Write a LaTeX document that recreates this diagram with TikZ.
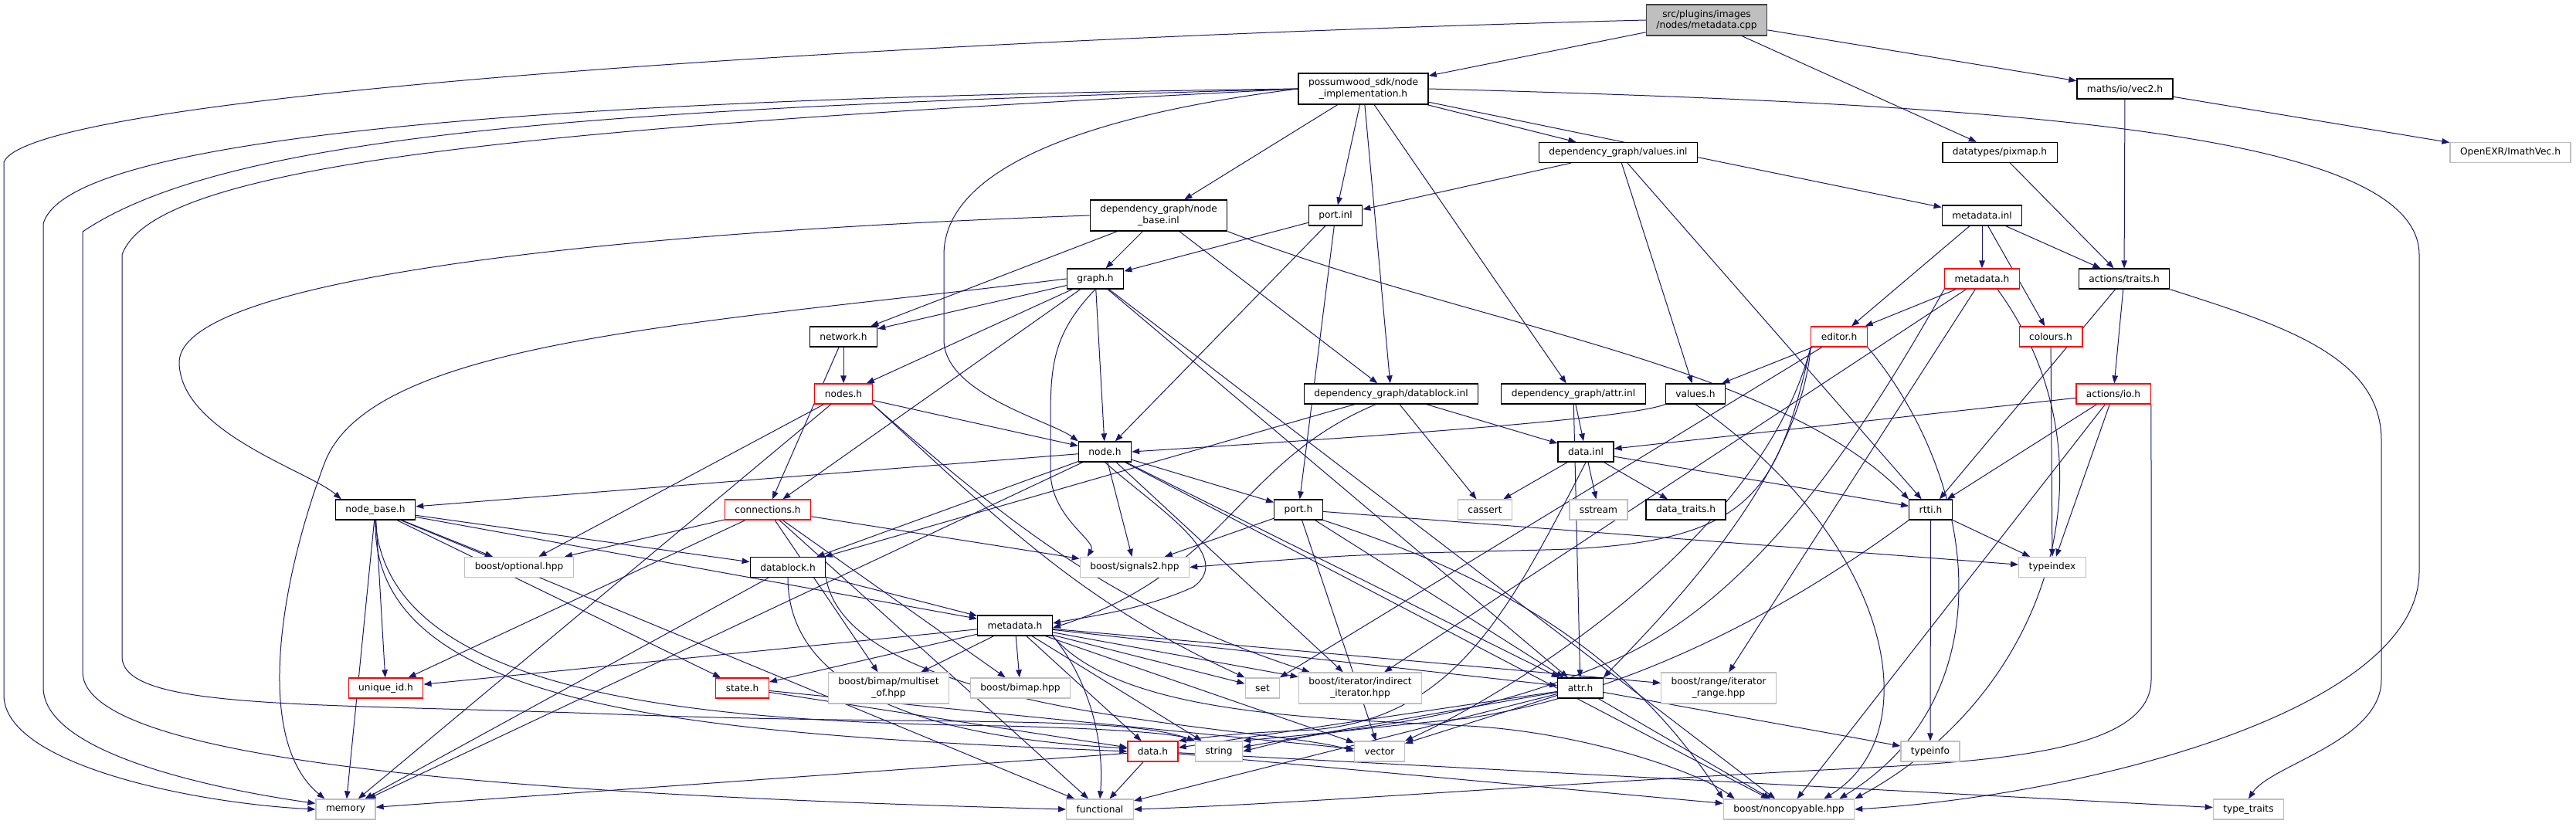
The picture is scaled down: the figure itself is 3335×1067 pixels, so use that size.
\documentclass[tikz,border=0pt]{standalone}
\usepackage{fontspec}
\setmainfont{DejaVu Sans}
\usetikzlibrary{arrows.meta}
\definecolor{edgeblue}{RGB}{25,25,112}
\definecolor{sysgray}{RGB}{191,191,191}
\definecolor{mainfill}{RGB}{191,191,191}
\definecolor{mainedge}{RGB}{64,64,64}
\definecolor{truncred}{RGB}{255,0,0}
\pgfdeclarelayer{bg}
\pgfdeclarelayer{edges}
\pgfsetlayers{bg,edges,main}
\tikzset{
  file/.style={draw,fill=white,line width=1.3pt,inner xsep=13pt,inner ysep=2pt,
    minimum height=26pt,align=center,font=\fontsize{12.2}{14.6}\selectfont},
  hdr/.style={file,draw=black},
  redhdr/.style={file,draw=truncred},
  syshdr/.style={file,draw=sysgray},
  mainfile/.style={file,draw=mainedge,fill=mainfill},
  twoline/.style={minimum height=40pt},
  dep/.style={draw=edgeblue,line width=1pt,-{Triangle[length=10pt,width=7.5pt]}}
}
\begin{document}
\begin{tikzpicture}[x=1pt,y=-1pt]
\useasboundingbox (0,0) rectangle (3335,1067);
\begin{pgfonlayer}{bg}
\fill[white] (0,0) rectangle (3335,1067);
\end{pgfonlayer}
% files
\node[mainfile,twoline] (cpp) at (2209.5,26) {src/plugins/images\\/nodes/metadata.cpp};
\node[hdr,twoline] (impl) at (1765,115) {possumwood\_sdk/node\\\_implementation.h};
\node[hdr] (vec2) at (2751,115) {maths/io/vec2.h};
\node[hdr] (valinl) at (2095,197.5) {dependency\_graph/values.inl};
\node[hdr] (pixmap) at (2589,197.5) {datatypes/pixmap.h};
\node[syshdr] (imath) at (3250,197.5) {OpenEXR/ImathVec.h};
\node[hdr,twoline] (nbinl) at (1500,279) {dependency\_graph/node\\\_base.inl};
\node[hdr] (portinl) at (1729,279) {port.inl};
\node[hdr] (mdinl) at (2566,279) {metadata.inl};
\node[hdr] (graph) at (1418,361) {graph.h};
\node[redhdr] (sdkmeta) at (2566,361) {metadata.h};
\node[hdr] (traits) at (2750,361) {actions/traits.h};
\node[hdr] (network) at (1092,436) {network.h};
\node[redhdr] (editor) at (2381,436) {editor.h};
\node[redhdr] (colours) at (2655,436) {colours.h};
\node[redhdr] (nodes) at (1092,510) {nodes.h};
\node[hdr] (dbinl) at (1801,510) {dependency\_graph/datablock.inl};
\node[hdr] (attrinl) at (2037,510) {dependency\_graph/attr.inl};
\node[hdr] (values) at (2195,510) {values.h};
\node[redhdr] (actio) at (2736,510) {actions/io.h};
\node[hdr] (nodeh) at (1430.5,585) {node.h};
\node[hdr] (datainl) at (2053,585) {data.inl};
\node[hdr] (nbh) at (486,660) {node\_base.h};
\node[redhdr] (conn) at (994,660) {connections.h};
\node[hdr] (port) at (1681,660) {port.h};
\node[syshdr] (cassert) at (1922.5,660) {cassert};
\node[syshdr] (sstream) at (2069.5,660) {sstream};
\node[hdr] (dtraits) at (2182.5,660) {data\_traits.h};
\node[hdr] (rtti) at (2499.5,660) {rtti.h};
\node[syshdr] (optional) at (672,734.5) {boost/optional.hpp};
\node[hdr] (datablock) at (1020,734.5) {datablock.h};
\node[syshdr] (signals) at (1469,734.5) {boost/signals2.hpp};
\node[syshdr] (typeindex) at (2657,734.5) {typeindex};
\node[hdr] (dgmeta) at (1314,810) {metadata.h};
\node[redhdr] (uid) at (499.5,891) {unique\_id.h};
\node[redhdr] (state) at (961,891) {state.h};
\node[syshdr,twoline] (multiset) at (1150.5,891) {boost/bimap/multiset\\\_of.hpp};
\node[syshdr] (bimap) at (1321,891) {boost/bimap.hpp};
\node[syshdr] (set) at (1634.5,891) {set};
\node[syshdr,twoline] (indirect) at (1761,891) {boost/iterator/indirect\\\_iterator.hpp};
\node[hdr] (attr) at (2046,891) {attr.h};
\node[syshdr,twoline] (range) at (2225,891) {boost/range/iterator\\\_range.hpp};
\node[syshdr] (typeinfo) at (2499,973) {typeinfo};
\node[redhdr] (datah) at (1492.5,973) {data.h};
\node[syshdr] (string) at (1578,973) {string};
\node[syshdr] (vector) at (1786,973) {vector};
\node[syshdr] (memory) at (447.5,1048) {memory};
\node[syshdr] (functional) at (1424,1048) {functional};
\node[syshdr] (noncopy) at (2316,1048) {boost/noncopyable.hpp};
\node[syshdr] (ttraits) at (2911,1048) {type\_traits};
\begin{pgfonlayer}{edges}
% direct includes
\foreach \src/\dst in {
  cpp/impl, cpp/pixmap, cpp/vec2,
  impl/nbinl, impl/portinl, impl/dbinl, impl/attrinl, impl/valinl, impl/mdinl,
  vec2/traits, vec2/imath, pixmap/traits,
  valinl/portinl, valinl/values, valinl/rtti,
  nbinl/network, nbinl/graph, nbinl/dbinl,
  portinl/graph, portinl/nodeh, portinl/port,
  mdinl/editor, mdinl/sdkmeta, mdinl/colours, mdinl/traits,
  sdkmeta/editor, sdkmeta/indirect, sdkmeta/range,
  editor/values, editor/set,
  colours/typeindex, traits/actio, traits/rtti,
  actio/datainl, actio/rtti, actio/typeindex, actio/noncopy,
  graph/network, graph/nodes, graph/conn, graph/nodeh, graph/attr, graph/noncopy,
  network/nodes, network/conn,
  nodes/nodeh, nodes/optional, nodes/memory,
  dbinl/datablock, dbinl/cassert, dbinl/datainl,
  attrinl/attr, attrinl/datainl,
  nodeh/nbh, nodeh/datablock, nodeh/memory, nodeh/signals, nodeh/indirect,
  nodeh/attr, nodeh/noncopy, nodeh/port,
  datainl/cassert, datainl/sstream, datainl/dtraits, datainl/rtti,
  nbh/memory, nbh/uid, nbh/dgmeta, nbh/state,
  nbh/optional, nbh/datablock, nbh/functional,
  conn/optional, conn/uid, conn/signals, conn/multiset, conn/bimap, conn/functional,
  port/signals, port/typeindex, port/attr, port/vector,
  rtti/typeindex, rtti/typeinfo,
  datablock/dgmeta, datablock/memory,
  dgmeta/uid, dgmeta/state, dgmeta/multiset, dgmeta/bimap, dgmeta/datah,
  dgmeta/string, dgmeta/vector, dgmeta/set, dgmeta/indirect, dgmeta/attr,
  dgmeta/range,
  state/datah, state/vector,
  attr/string, attr/datah, attr/vector, attr/functional, attr/noncopy, attr/typeinfo,
  datah/memory, datah/functional, datah/noncopy, datah/ttraits}
  \draw[dep] (\src) -- (\dst);
% long routes round the left side
\draw[dep] (cpp.west) .. controls (1200,50) and (40,120) .. (5,210) -- (5,900)
  .. controls (5,990) and (250,1040) .. (memory.west);
\draw[dep] (impl.west) .. controls (900,125) and (90,160) .. (56,290) -- (56,890)
  .. controls (56,980) and (300,1025) .. ([yshift=-6pt]memory.north west);
\draw[dep] (impl.west) .. controls (800,140) and (300,170) .. (107,300) -- (107,870)
  .. controls (107,990) and (700,1030) .. (functional.west);
\draw[dep] (impl.west) .. controls (700,165) and (200,210) .. (158,330) -- (158,850)
  .. controls (158,920) and (400,910) .. (800,925)
  .. controls (1200,940) and (1450,925) .. (string.north west);
\draw[dep] (impl.west) .. controls (1400,150) and (1222,220) .. (1222,330) -- (1222,440)
  .. controls (1222,510) and (1360,545) .. (nodeh.north west);
\draw[dep] (nbinl.west) .. controls (800,300) and (230,360) .. (232,470)
  .. controls (234,560) and (400,610) .. ([xshift=8pt]nbh.north west);
\draw[dep] (graph.west) .. controls (900,420) and (480,440) .. (420,600)
  .. controls (360,760) and (330,960) .. ([xshift=12pt]memory.north west);
\draw[dep] (graph.south) .. controls (1365,430) and (1360,470) .. (1360,540) -- (1360,610)
  .. controls (1360,670) and (1420,700) .. ([xshift=10pt]signals.north west);
% middle curves
\draw[dep] (values.south west) .. controls (2100,545) and (1700,570) .. (nodeh.east);
\draw[dep] (nodeh.south) .. controls (1500,660) and (1600,720) .. (1545,760)
  .. controls (1480,790) and (1400,800) .. ([yshift=3pt]dgmeta.east);
\draw[dep] ([xshift=-20pt]dbinl.south) .. controls (1600,600) and (1590,740) .. ([yshift=-3pt]dgmeta.east);
\draw[dep] (dgmeta.south east) .. controls (1410,880) and (1430,960) .. (functional.north);
\draw[dep] (nodes.south east) .. controls (1300,680) and (1400,780) .. (set.north west);
\draw[dep] (nodes.south east) .. controls (1320,690) and (1450,790) .. ([xshift=15pt]indirect.north west);
\draw[dep] (nbh.south) .. controls (500,900) and (900,935) .. (1300,940)
  .. controls (1450,944) and (1520,950) .. (string.north west);
\draw[dep] (nbh.south) .. controls (480,920) and (900,950) .. (datah.west);
\draw[dep] (datablock.south) .. controls (1020,930) and (1300,960) .. ([yshift=4pt]datah.west);
\draw[dep] (datablock.south east) .. controls (1100,930) and (1650,940) .. (vector.west);
\draw[dep] (datainl.south) .. controls (1950,800) and (1880,930) .. (1700,945)
  .. controls (1600,950) .. (datah.north east);
\draw[dep] (rtti.south west) .. controls (2300,800) and (2100,900) .. (1900,930)
  .. controls (1700,950) .. (string.east);
\draw[dep] (nbinl.south east) .. controls (1900,420) and (2300,470) .. (rtti.north west);
\draw[dep] (sdkmeta.south west) .. controls (2380,620) and (2250,780) .. (2100,850)
  .. controls (1900,940) and (1700,950) .. (string.north east);
\draw[dep] (editor.south west) .. controls (2330,620) and (2150,800) .. (attr.north east);
\draw[dep] (editor.south west) .. controls (2280,700) and (1950,900) .. (vector.north east);
\draw[dep] (editor.south west) .. controls (2300,640) and (2270,705) .. (2000,712)
  .. controls (1750,718) .. (signals.east);
\draw[dep] (port.south east) .. controls (1950,750) and (2110,850) .. (noncopy.north west);
\draw[dep] (dgmeta.south east) .. controls (1450,925) and (1700,930) .. (1900,940)
  .. controls (2050,948) and (2200,1000) .. ([xshift=15pt]noncopy.north west);
% long routes round the right side
\draw[dep] (impl.east) .. controls (2600,135) and (3132,170) .. (3132,330) -- (3132,740)
  .. controls (3132,920) and (2700,1030) .. (noncopy.east);
\draw[dep] (traits.south east) .. controls (2950,420) and (3083,460) .. (3083,570) -- (3083,880)
  .. controls (3083,960) and (2940,990) .. (ttraits.north);
\draw[dep] (actio.south east) .. controls (2785,600) .. (2785,700) -- (2785,880)
  .. controls (2785,970) and (2600,985) .. (2400,995)
  .. controls (2000,1015) and (1700,1040) .. (functional.east);
\draw[dep] (editor.south east) .. controls (2560,620) and (2600,900) .. ([xshift=-20pt]noncopy.north east);
\draw[dep] (values.south) .. controls (2450,700) and (2500,950) .. ([xshift=-40pt]noncopy.north east);
\draw[dep] ([xshift=20pt]sdkmeta.south) .. controls (2750,600) and (2650,900) .. (noncopy.north east);
\end{pgfonlayer}
\end{tikzpicture}
\end{document}
